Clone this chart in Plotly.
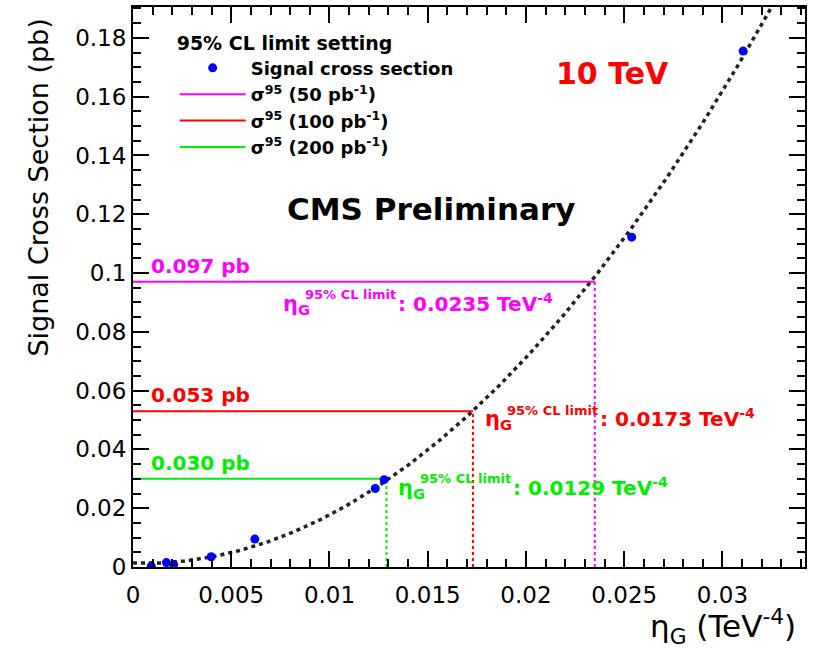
import numpy as np
import plotly.graph_objects as go

# Signal cross section vs eta_G (10 TeV)
eta_g = [0.00093, 0.0017, 0.00207, 0.00398, 0.0062, 0.01233, 0.01278, 0.02538, 0.03105]
sigma_pb = [0.0003, 0.0015, 0.0008, 0.0035, 0.0095, 0.0267, 0.0297, 0.1122, 0.1755]

# 95% CL limits per integrated luminosity
lumi_labels = ["50", "100", "200"]
limit_pb = [0.097, 0.053, 0.030]
limit_eta = [0.0235, 0.0173, 0.0129]
limit_colors = ["#ff00ff", "#ff0000", "#00ee00"]

x_tickvals = [0, 0.005, 0.01, 0.015, 0.02, 0.025, 0.03]
x_ticktext = ["0", "0.005", "0.01", "0.015", "0.02", "0.025", "0.03"]
y_tickvals = [0, 0.02, 0.04, 0.06, 0.08, 0.1, 0.12, 0.14, 0.16, 0.18]
y_ticktext = ["0", "0.02", "0.04", "0.06", "0.08", "0.1", "0.12", "0.14", "0.16", "0.18"]

X_MAX = 0.0342
Y_MAX = 0.1905
FONT = "DejaVu Sans"

# quadratic fit of the signal cross section
coef = np.polyfit(eta_g, sigma_pb, 2)
fit_x = np.linspace(0, X_MAX, 300)
fit_y = np.polyval(coef, fit_x)

fig = go.Figure()

fig.add_trace(go.Scatter(
    x=fit_x, y=fit_y, mode="lines", showlegend=False, hoverinfo="skip",
    line=dict(color="#222222", width=3.5, dash="4px,4px"),
))

# limit lines: horizontal at the limit cross section, vertical down to the axis
for lab, pb, eta, col in zip(lumi_labels, limit_pb, limit_eta, limit_colors):
    fig.add_trace(go.Scatter(
        x=[0, eta], y=[pb, pb], mode="lines",
        name=f"σ<sup>95</sup> ({lab} pb<sup>-1</sup>)",
        line=dict(color=col, width=2),
    ))
    fig.add_trace(go.Scatter(
        x=[eta, eta], y=[0, pb], mode="lines", showlegend=False,
        line=dict(color=col, width=2, dash="dot"),
    ))

fig.add_trace(go.Scatter(
    x=eta_g, y=sigma_pb, mode="markers", name="Signal cross section",
    marker=dict(color="#0000ff", size=9),
    legendrank=1,
))

annotations = []

# value labels above the horizontal lines
for pb, col in zip(limit_pb, limit_colors):
    annotations.append(dict(
        x=0.0008, y=pb, xref="x", yref="y", xanchor="left", yanchor="bottom",
        yshift=2, showarrow=False, text=f"<b>{pb:.3f} pb</b>",
        font=dict(family=FONT, size=20, color=col),
    ))

# eta_G limit labels: (dx, dy) pixel offsets of the eta glyph from the crossing point
label_offsets = [(-314, -19), (10, -5), (10, -6)]
for pb, eta, col, (dx, dy) in zip(limit_pb, limit_eta, limit_colors, label_offsets):
    annotations.append(dict(
        x=eta, y=pb, xref="x", yref="y", xanchor="left", yanchor="middle",
        xshift=dx, yshift=dy - 4, showarrow=False, text="<b>η<sub>G</sub></b>",
        font=dict(family=FONT, size=21, color=col),
    ))
    annotations.append(dict(
        x=eta, y=pb, xref="x", yref="y", xanchor="left", yanchor="middle",
        xshift=dx + 22, yshift=dy + 6, showarrow=False, text="<b>95% CL limit</b>",
        font=dict(family=FONT, size=13, color=col),
    ))
    annotations.append(dict(
        x=eta, y=pb, xref="x", yref="y", xanchor="left", yanchor="middle",
        xshift=dx + 115, yshift=dy - 2, showarrow=False,
        text=f"<b>: {eta:.4f} TeV<sup>-4</sup></b>",
        font=dict(family=FONT, size=20, color=col),
    ))

annotations += [
    dict(x=0.443, y=0.640, xref="paper", yref="paper", xanchor="center", yanchor="middle",
         showarrow=False, text="<b>CMS Preliminary</b>",
         font=dict(family=FONT, size=31, color="black")),
    dict(x=0.714, y=0.882, xref="paper", yref="paper", xanchor="center", yanchor="middle",
         showarrow=False, text="<b>10 TeV</b>",
         font=dict(family=FONT, size=30, color="#ff0000")),
    dict(x=-0.141, y=0.678, xref="paper", yref="paper", xanchor="center", yanchor="middle",
         showarrow=False, textangle=-90, text="Signal Cross Section (pb)",
         font=dict(family=FONT, size=27, color="black")),
    dict(x=0.990, y=-0.106, xref="paper", yref="paper", xanchor="right", yanchor="middle",
         showarrow=False, text="η<sub>G</sub> (TeV<sup>-4</sup>)",
         font=dict(family=FONT, size=31, color="black")),
]

axis_common = dict(
    showgrid=False, zeroline=False, showline=True, linecolor="black", linewidth=2,
    mirror="allticks", ticks="inside", tickcolor="black", tickwidth=1.5, ticklen=16,
    tickfont=dict(family=FONT, size=23, color="black"),
)

fig.update_xaxes(
    range=[0, X_MAX], tickmode="array", tickvals=x_tickvals, ticktext=x_ticktext,
    ticklabelstandoff=6,
    minor=dict(ticks="inside", ticklen=8, tickcolor="black", tickwidth=1.5, dtick=0.001, tick0=0),
    **axis_common,
)
fig.update_yaxes(
    range=[0, Y_MAX], tickmode="array", tickvals=y_tickvals, ticktext=y_ticktext,
    minor=dict(ticks="inside", ticklen=8, tickcolor="black", tickwidth=1.5, dtick=0.005, tick0=0),
    **axis_common,
)

fig.update_layout(
    width=814, height=653,
    margin=dict(l=133, r=9, t=5, b=86),
    paper_bgcolor="white", plot_bgcolor="white",
    annotations=annotations,
    legend=dict(
        x=0.062, y=0.968, xanchor="left", yanchor="top",
        bgcolor="rgba(0,0,0,0)", itemwidth=66, tracegroupgap=0,
        font=dict(family=FONT, size=18, color="black", weight="bold"),
        title=dict(text="95% CL limit setting",
                   font=dict(family=FONT, size=19, color="black", weight="bold")),
    ),
)

fig.write_html("out.html")
